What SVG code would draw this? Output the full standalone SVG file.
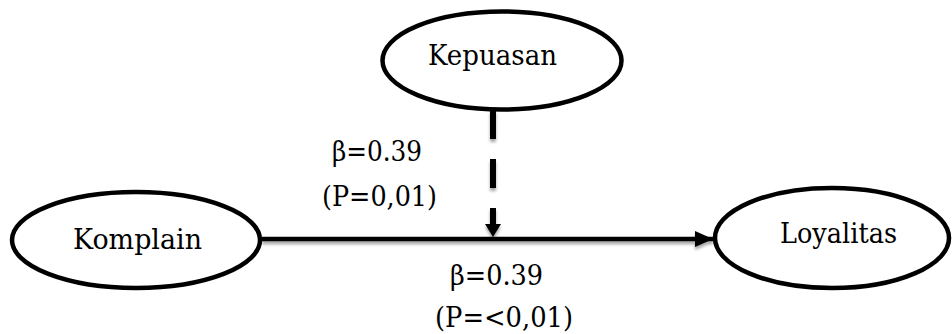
<svg xmlns="http://www.w3.org/2000/svg" width="952" height="334" viewBox="0 0 952 334">
  <style>
    .node { fill: #ffffff; stroke: #000000; stroke-width: 4.5; }
    .lbl { font-family: "DejaVu Serif", "Liberation Serif", serif; font-size: 27px; fill: #000000; text-anchor: middle; }
    .conn { stroke: #000000; fill: none; }
  </style>
  <defs>
    <filter id="shadow" filterUnits="userSpaceOnUse" x="0" y="0" width="952" height="334">
      <feDropShadow dx="0" dy="3" stdDeviation="1.5" flood-color="#000000" flood-opacity="0.35"/>
    </filter>
    <marker id="arrowR" markerUnits="userSpaceOnUse" markerWidth="20" markerHeight="18" refX="18" refY="8" orient="auto">
      <path d="M0,0 L18,8 L0,16 Z" fill="#000000"/>
    </marker>
    <marker id="arrowD" markerUnits="userSpaceOnUse" markerWidth="16" markerHeight="16" refX="13" refY="8" orient="auto">
      <path d="M0,0 L13,8 L0,16 Z" fill="#000000"/>
    </marker>
  </defs>

  <g id="connectors">
    <line class="conn" x1="262" y1="239" x2="713" y2="239" stroke-width="4.5" marker-end="url(#arrowR)" filter="url(#shadow)"/>
    <line class="conn" x1="493" y1="110" x2="493" y2="237" stroke-width="6" stroke-dasharray="29 20 29 20 17 40" marker-end="url(#arrowD)" filter="url(#shadow)"/>
  </g>

  <g id="node-kepuasan">
    <ellipse class="node" cx="502" cy="60.5" rx="119.5" ry="49"/>
    <text class="lbl" x="492.5" y="65" textLength="129" lengthAdjust="spacingAndGlyphs">Kepuasan</text>
  </g>

  <g id="node-komplain">
    <ellipse class="node" cx="136" cy="240" rx="124" ry="48"/>
    <text class="lbl" x="137.5" y="249" textLength="129" lengthAdjust="spacingAndGlyphs">Komplain</text>
  </g>

  <g id="node-loyalitas">
    <ellipse class="node" cx="832" cy="238" rx="117" ry="50"/>
    <text class="lbl" x="838.5" y="243" textLength="117" lengthAdjust="spacingAndGlyphs">Loyalitas</text>
  </g>

  <g id="labels">
    <text class="lbl" x="377" y="161" textLength="90" lengthAdjust="spacingAndGlyphs">β=0.39</text>
    <text class="lbl" x="379.5" y="206" textLength="115" lengthAdjust="spacingAndGlyphs">(P=0,01)</text>
    <text class="lbl" x="496.5" y="285" textLength="93" lengthAdjust="spacingAndGlyphs">β=0.39</text>
    <text class="lbl" x="504" y="327" textLength="138" lengthAdjust="spacingAndGlyphs">(P=&lt;0,01)</text>
  </g>
</svg>
